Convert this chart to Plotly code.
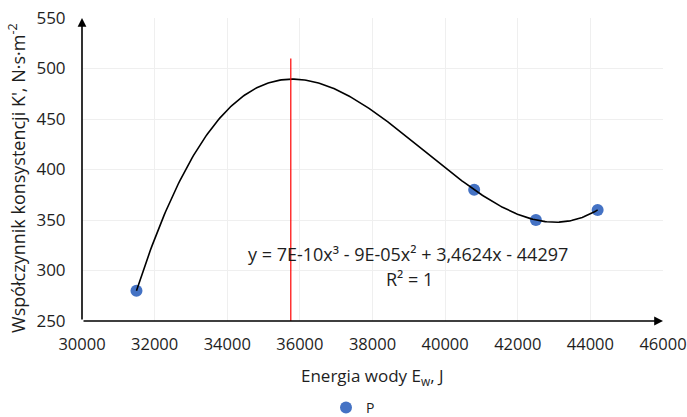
import numpy as np
import plotly.graph_objects as go

# Data
energy = [31500, 40800, 42500, 44200]
consistency = [280, 380, 350, 360]
series_name = "P"
x_ticks = [30000, 32000, 34000, 36000, 38000, 40000, 42000, 44000, 46000]
y_ticks = [250, 300, 350, 400, 450, 500, 550]
red_line_x = 35750
red_line_top = 510
equation_text = "y = 7E-10x³ - 9E-05x² + 3,4624x - 44297"
r2_text = "R² = 1"

FONT = "Open Sans"
TXT = "#1e1e1e"
BLUE = "#4472C4"

coef = np.polyfit(energy, consistency, 3)
xs = np.linspace(min(energy), max(energy), 300)
ys = np.polyval(coef, xs)

fig = go.Figure()
fig.add_trace(go.Scatter(x=energy, y=consistency, mode="markers", name=series_name,
                         marker=dict(color=BLUE, size=12), showlegend=True))
fig.add_trace(go.Scatter(x=xs, y=ys, mode="lines", showlegend=False,
                         line=dict(color="black", width=1.6), hoverinfo="skip"))

fig.add_shape(type="line", x0=red_line_x, x1=red_line_x, y0=min(y_ticks), y1=red_line_top,
              xref="x", yref="y", line=dict(color="red", width=1.2))

# axes with arrows
fig.add_annotation(x=max(x_ticks), y=min(y_ticks), ax=min(x_ticks), ay=min(y_ticks),
                   xref="x", yref="y", axref="x", ayref="y", text="", showarrow=True,
                   arrowhead=2, arrowsize=1.1, arrowwidth=1.6, arrowcolor="black")
fig.add_annotation(x=min(x_ticks), y=max(y_ticks), ax=min(x_ticks), ay=min(y_ticks),
                   xref="x", yref="y", axref="x", ayref="y", text="", showarrow=True,
                   arrowhead=2, arrowsize=1.1, arrowwidth=1.6, arrowcolor="black")

fig.add_annotation(x=38977, y=316, xref="x", yref="y", text=equation_text, showarrow=False,
                   font=dict(family=FONT, size=18, color=TXT), xanchor="center", yanchor="middle")
fig.add_annotation(x=39010, y=291.5, xref="x", yref="y", text=r2_text, showarrow=False,
                   font=dict(family=FONT, size=18, color=TXT), xanchor="center", yanchor="middle")

# axis titles
fig.add_annotation(x=0, y=0.472, xref="paper", yref="paper", xshift=-65,
                   text="Współczynnik konsystencji K', N·s·m<sup>-2</sup>", textangle=-90,
                   showarrow=False, font=dict(family=FONT, size=18, color=TXT),
                   xanchor="center", yanchor="middle")
fig.add_annotation(x=0.5, y=0, xref="paper", yref="paper", yshift=-55,
                   text="Energia wody E<sub>w</sub>, J", showarrow=False,
                   font=dict(family=FONT, size=17, color=TXT), xanchor="center", yanchor="middle")

fig.update_xaxes(range=[min(x_ticks), max(x_ticks)], tickvals=x_ticks,
                 ticktext=[str(v) for v in x_ticks], showgrid=True, gridcolor="#EFEFEF",
                 gridwidth=1, zeroline=False, showline=False, ticks="outside", ticklen=8,
                 tickcolor="rgba(0,0,0,0)", ticklabeloverflow="allow",
                 tickfont=dict(family=FONT, size=16.5, color=TXT))
fig.update_yaxes(range=[min(y_ticks), max(y_ticks)], tickvals=y_ticks,
                 showgrid=True, gridcolor="#EFEFEF", gridwidth=1, zeroline=False,
                 showline=False, ticks="outside", ticklen=12, tickcolor="rgba(0,0,0,0)",
                 tickfont=dict(family=FONT, size=17, color=TXT))

fig.update_layout(
    width=687, height=417,
    margin=dict(l=82, r=24, t=18, b=96, autoexpand=False),
    paper_bgcolor="white", plot_bgcolor="white",
    showlegend=True,
    legend=dict(orientation="h", xref="container", yref="container",
                x=326 / 687, y=1 - 408 / 417, xanchor="left", yanchor="middle",
                font=dict(family=FONT, size=14, color=TXT), itemwidth=30,
                bgcolor="rgba(0,0,0,0)", borderwidth=0),
    font=dict(family=FONT),
)

fig.write_html("out.html")
